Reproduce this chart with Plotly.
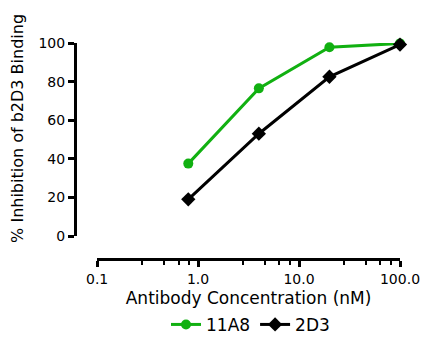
import plotly.graph_objects as go

concentration = [0.8, 4, 20, 100]
inhib_11A8 = [37.5, 76.5, 97.8, 99.8]
inhib_2D3 = [19.0, 53.0, 82.5, 99.2]

x_tickvals = [0.1, 1, 10, 100]
x_ticktext = ["0.1", "1.0", "10.0", "100.0"]
minor_mult = [2.8, 4.6, 6.4, 8.2]
minor_vals = [m * d for d in [0.1, 1, 10] for m in minor_mult]
y_tickvals = [0, 20, 40, 60, 80, 100]

FONT = "DejaVu Sans"
GREEN = "#11b011"

# page body has an 8px margin, so the figure is 8px smaller than the window
W, H = 423, 333

fig = go.Figure()
fig.add_trace(go.Scatter(
    x=concentration, y=inhib_11A8, name="11A8", mode="lines+markers",
    line=dict(color=GREEN, width=3),
    marker=dict(symbol="circle", size=10, color=GREEN),
    cliponaxis=False,
))
fig.add_trace(go.Scatter(
    x=concentration, y=inhib_2D3, name="2D3", mode="lines+markers",
    line=dict(color="black", width=3),
    marker=dict(symbol="diamond", size=11, color="black"),
    cliponaxis=False,
))

fig.update_layout(
    width=W, height=H,
    margin=dict(l=67, r=31, t=35, b=82, autoexpand=False),
    paper_bgcolor="white", plot_bgcolor="white",
    font=dict(family=FONT, color="black"),
    showlegend=True,
    legend=dict(orientation="h", x=0.54, xanchor="center", y=-0.305, yanchor="middle",
                font=dict(size=17, family=FONT), itemwidth=30, tracegroupgap=0),
    xaxis=dict(
        type="log", range=[-1, 2], domain=[0.068, 1],
        anchor="free", position=0,
        showgrid=False, zeroline=False,
        showline=True, linecolor="black", linewidth=3,
        ticks="outside", ticklen=6, tickwidth=3, tickcolor="black",
        tickvals=x_tickvals, ticktext=x_ticktext,
        tickfont=dict(size=14, family=FONT),
        minor=dict(tickvals=minor_vals, ticks="outside", ticklen=4, tickwidth=2,
                   tickcolor="black", showgrid=False),
        title=dict(text="Antibody Concentration (nM)", font=dict(size=17, family=FONT),
                   standoff=6),
    ),
    yaxis=dict(
        range=[0, 100], domain=[0.1065, 1],
        anchor="free", position=0,
        showgrid=False, zeroline=False,
        showline=True, linecolor="black", linewidth=3,
        ticks="outside", ticklen=6, tickwidth=3, tickcolor="black",
        tickvals=y_tickvals,
        tickfont=dict(size=14, family=FONT),
    ),
    annotations=[dict(
        text="% Inhibition of b2D3 Binding", textangle=-90,
        xref="paper", yref="paper", x=-0.175, y=0.603,
        xanchor="center", yanchor="middle", showarrow=False,
        font=dict(size=16, family=FONT, color="black"),
    )],
)

fig.write_html("out.html")
